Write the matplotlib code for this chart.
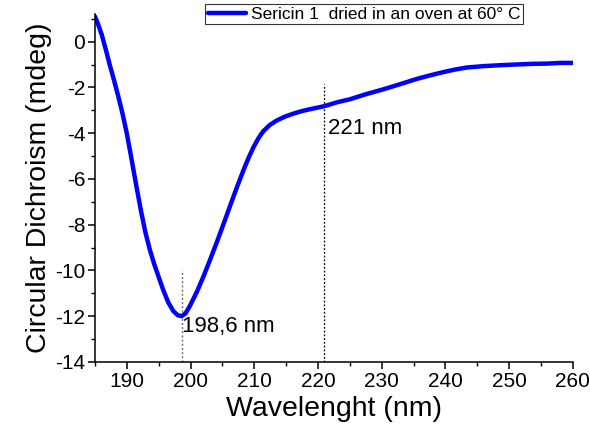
import matplotlib
matplotlib.use("Agg")
import matplotlib.pyplot as plt
from matplotlib.ticker import MultipleLocator

plt.rcParams['font.family'] = ['Liberation Sans', 'DejaVu Sans']

# CD spectrum of sericin 1 (oven-dried at 60 °C)
wavelength = [185.0, 185.5, 186.05, 186.7, 187.35, 188.0, 188.66, 189.3, 189.97, 190.7,
              191.5, 192.2, 192.9, 193.6, 194.3, 195.0, 195.7, 196.5, 197.3, 198.0,
              198.6, 199.2, 199.9, 201.0, 202.0, 203.0, 204.1, 205.2, 206.2, 207.2,
              208.3, 209.1, 209.9, 210.7, 211.4, 212.4, 213.5, 214.8, 216.1, 217.4,
              218.8, 220.0, 221.0, 223.0, 225.0, 227.5, 230.3, 233.0, 235.5, 237.5,
              239.7, 241.5, 243.4, 246.0, 248.6, 251.0, 253.8, 256.0, 258.0, 260.0]
cd_mdeg = [1.10, 0.75, 0.31, -0.35, -1.05, -1.70, -2.40, -3.12, -3.98, -5.08,
           -6.32, -7.37, -8.32, -9.09, -9.73, -10.29, -10.85, -11.40, -11.78, -11.96,
           -12.00, -11.88, -11.55, -10.93, -10.28, -9.58, -8.78, -7.95, -7.18, -6.42,
           -5.62, -5.08, -4.60, -4.20, -3.92, -3.65, -3.45, -3.28, -3.15, -3.04,
           -2.95, -2.88, -2.82, -2.65, -2.52, -2.30, -2.08, -1.85, -1.63, -1.48,
           -1.33, -1.22, -1.13, -1.07, -1.03, -1.00, -0.97, -0.96, -0.93, -0.93]

min_wl, min_cd = 198.6, -12.0
shoulder_wl = 221.0

fig = plt.figure(figsize=(5.90, 4.43), dpi=100)
ax = fig.add_axes([0.161, 0.183, 0.810, 0.785])

ax.plot(wavelength, cd_mdeg, color='#0000ff', lw=3.2,
        label='Sericin 1  dried in an oven at 60° C', solid_capstyle='round',
        solid_joinstyle='round')

# marker lines for the minimum and the shoulder
ax.plot([min_wl, min_wl], [-14, -10], color='#707070', lw=1.0, ls=(0, (1.5, 1.5)), zorder=1)
ax.plot([shoulder_wl, shoulder_wl], [-14, -1.85], color='black', lw=0.9, ls=(0, (1.5, 1.5)), zorder=1)
ax.text(min_wl + 0.05, -12.45, '198,6 nm', fontsize=16, va='center', ha='left')
ax.text(shoulder_wl + 0.6, -3.8, '221 nm', fontsize=16, va='center', ha='left')

ax.set_xlim(185, 260)
ax.set_ylim(-14, 1.2)
ax.xaxis.set_minor_locator(MultipleLocator(5))
ax.yaxis.set_minor_locator(MultipleLocator(1))
ax.set_xticks(range(190, 261, 10))
ax.set_yticks(range(-14, 1, 2))
ax.set_yticklabels([str(v) for v in range(-14, 1, 2)])

for s in ['top', 'right']:
    ax.spines[s].set_visible(False)
for s in ['left', 'bottom']:
    ax.spines[s].set_linewidth(1.1)
ax.tick_params(which='major', direction='out', length=5, width=1.1, labelsize=15, pad=2)
ax.tick_params(which='minor', direction='out', length=3, width=1.0)

ax.set_xlabel('Wavelenght (nm)', fontsize=20.5, labelpad=4)
ax.set_ylabel('Circular Dichroism (mdeg)', fontsize=20.5, labelpad=2)

leg = fig.legend(loc='upper left', bbox_to_anchor=(205 / 590, 1 - 4 / 443), fontsize=12.5,
                 frameon=True, fancybox=False, edgecolor='black', handlelength=2.2,
                 borderpad=0.15, handletextpad=0.3, borderaxespad=0)
leg.get_frame().set_linewidth(0.8)

fig.savefig('out.png', dpi=100)
